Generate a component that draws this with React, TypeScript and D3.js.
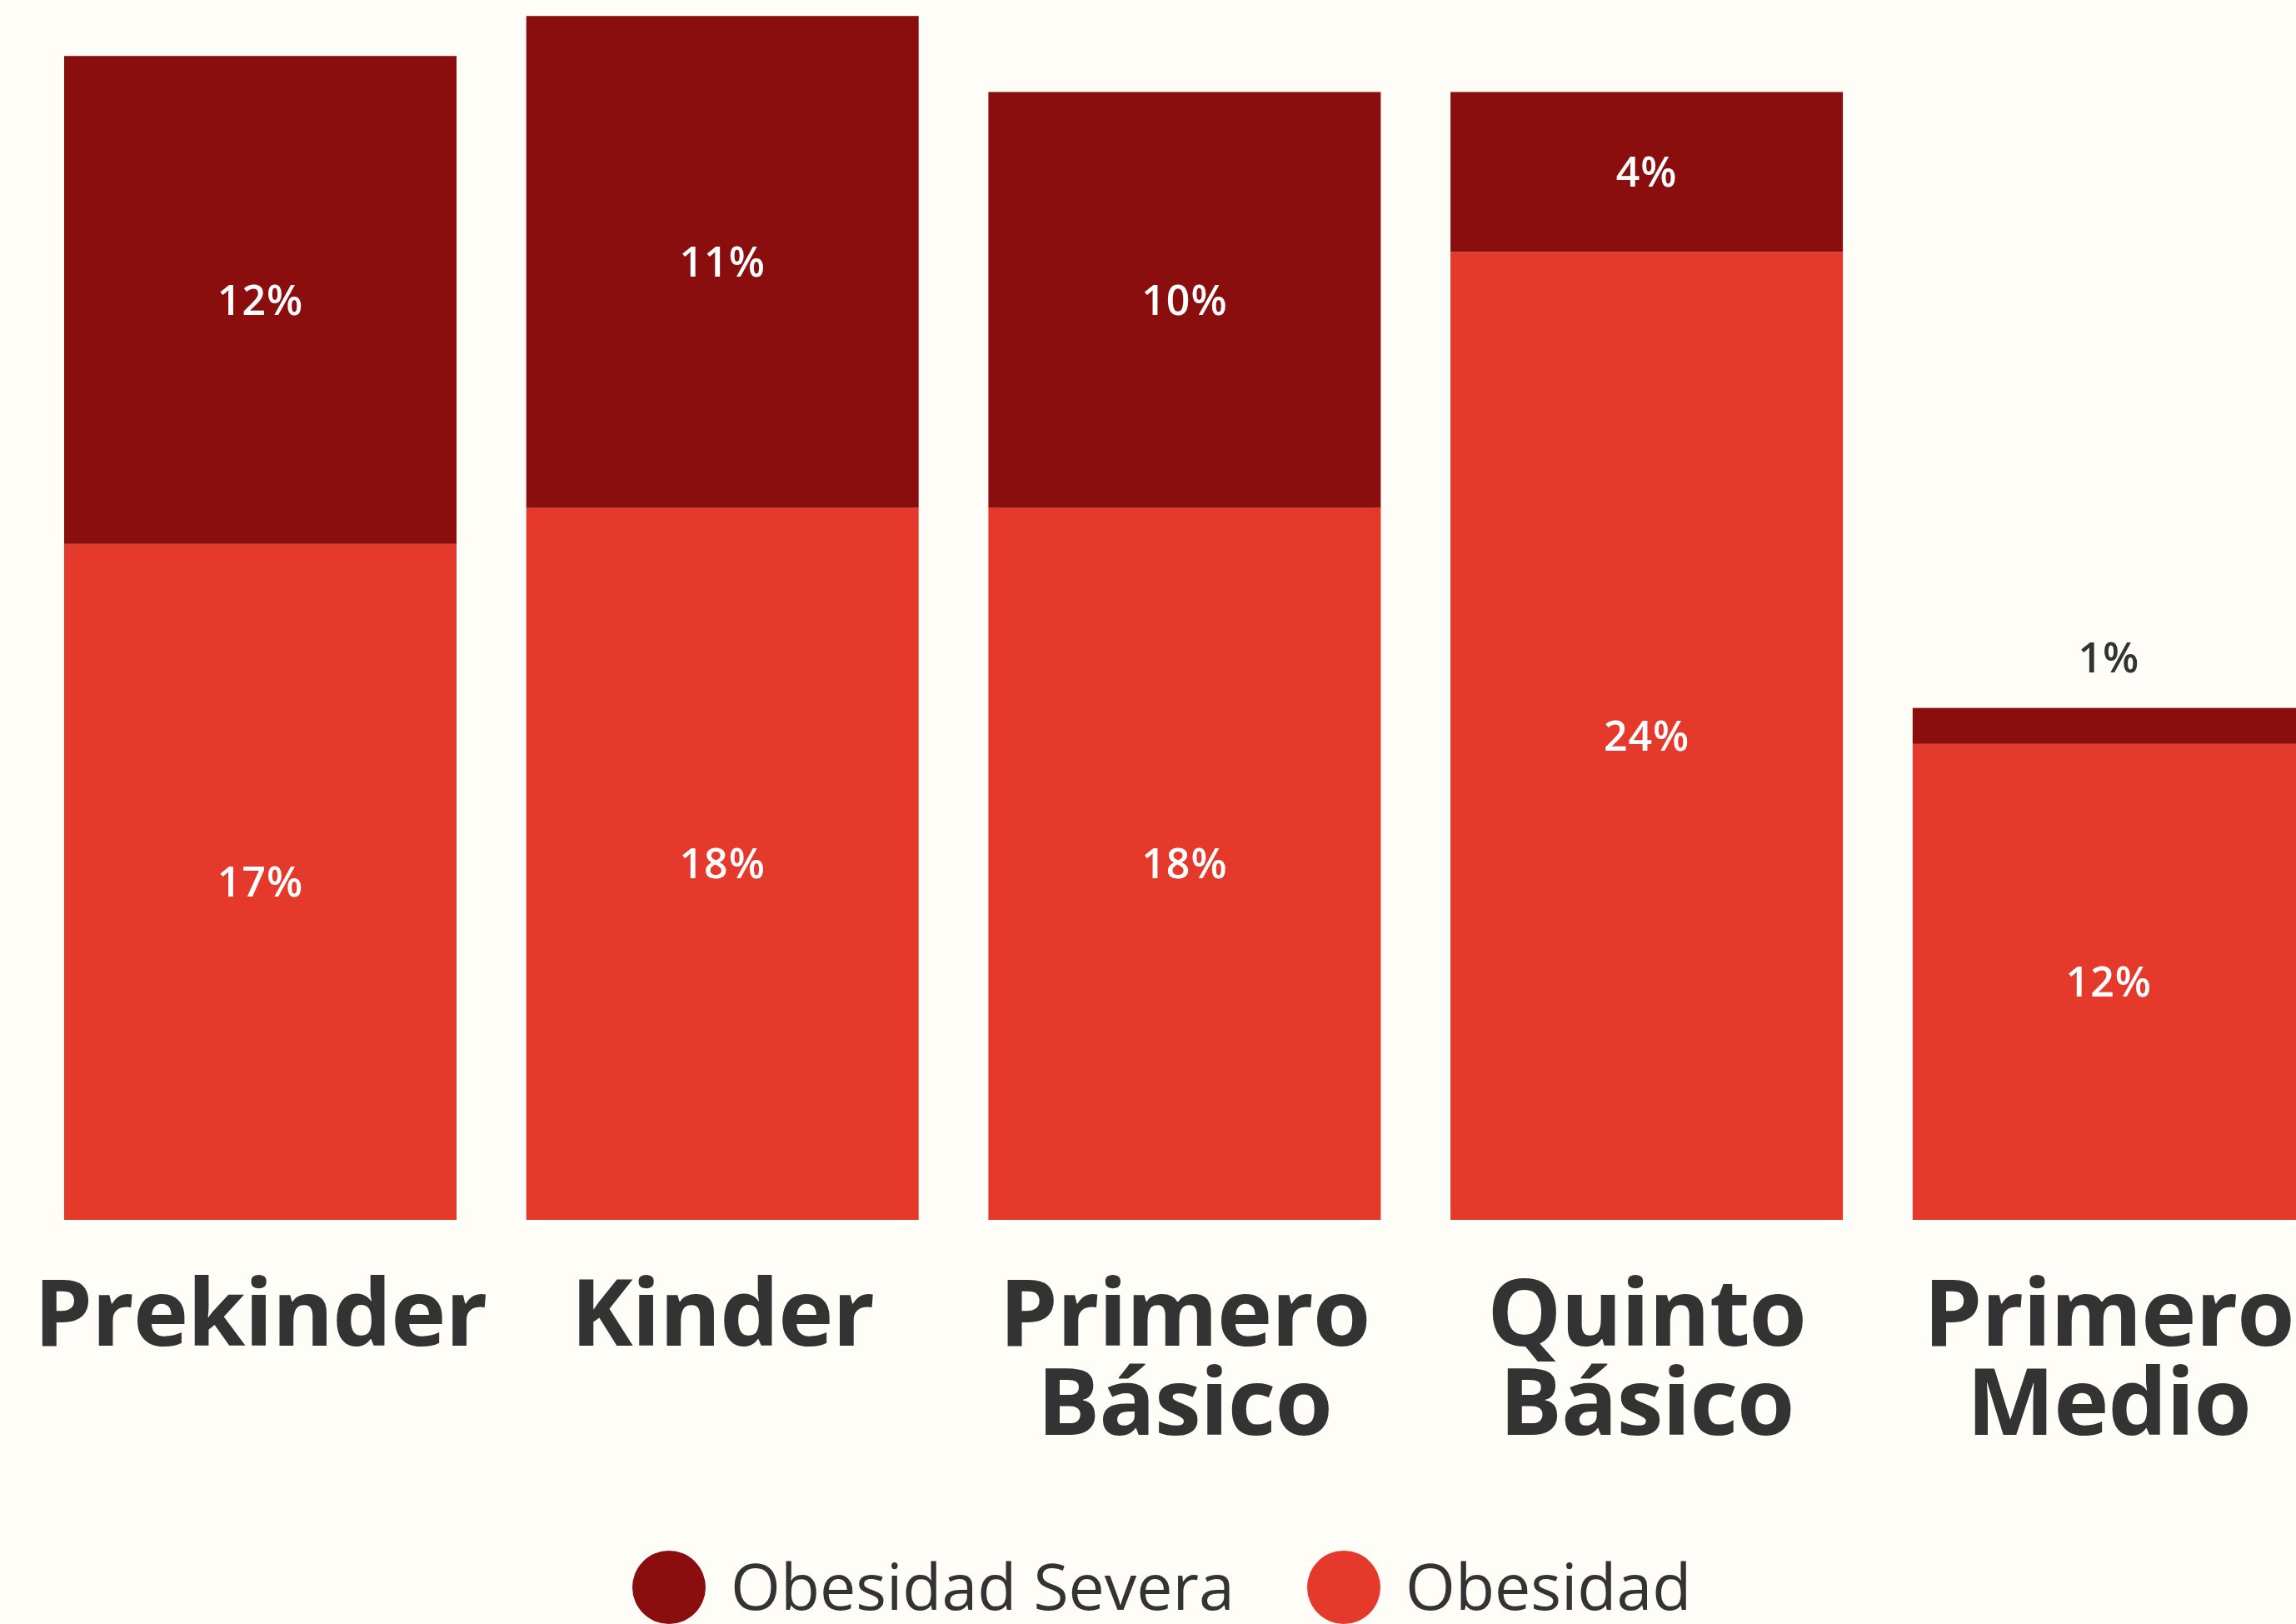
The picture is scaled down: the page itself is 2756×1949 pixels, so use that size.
import React from 'react';
import * as d3 from 'd3';

const categories = ['Prekinder', 'Kinder', 'Primero Básico', 'Quinto Básico', 'Primero Medio'];
const categoryLines = [['Prekinder'], ['Kinder'], ['Primero', 'Básico'], ['Quinto', 'Básico'], ['Primero', 'Medio']];
const obesidad = [16.9, 17.8, 17.8, 24.2, 11.9];
const obesidadSevera = [12.2, 12.3, 10.4, 4.0, 0.9];
const obesidadLabels = ['17%', '18%', '18%', '24%', '12%'];
const severaLabels = ['12%', '11%', '10%', '4%', '1%'];
const seriesNames = ['Obesidad Severa', 'Obesidad'];
const seriesColors = ['#8B0E0F', '#E5392C'];

const W = 2756;
const H = 1949;
const BG = '#FFFDF8';
const TEXT = '#333333';
const FONT = '"Open Sans", "DejaVu Sans", sans-serif';

export default function App() {
  const step = 554.7;
  const pad = 0.1509;
  const x = d3
    .scaleBand<string>()
    .domain(categories)
    .range([77, 77 + step * (categories.length - pad)])
    .paddingInner(pad)
    .paddingOuter(0);
  const y = d3.scaleLinear().domain([0, 30]).range([1464, 24]);

  const bw = x.bandwidth();

  return (
    <svg
      width={W}
      height={H}
      style={{ position: 'absolute', left: 0, top: 0, display: 'block' }}
      fontFamily={FONT}
    >
      <rect x={0} y={0} width={W} height={H} fill={BG} />
      {categories.map((c, i) => {
        const x0 = x(c)!;
        const cx = x0 + bw / 2;
        const ob = obesidad[i];
        const sv = obesidadSevera[i];
        const yObTop = y(ob);
        const ySvTop = y(ob + sv);
        const svH = yObTop - ySvTop;
        const svInside = svH > 70;
        return (
          <g key={c}>
            <rect x={x0} y={yObTop} width={bw} height={y(0) - yObTop} fill={seriesColors[1]} />
            <rect x={x0} y={ySvTop} width={bw} height={svH} fill={seriesColors[0]} />
            <text
              x={cx}
              y={(yObTop + y(0)) / 2}
              dy="0.35em"
              textAnchor="middle"
              fill="#ffffff"
              fontSize={50}
              fontWeight={600}
              letterSpacing={1}
            >
              {obesidadLabels[i]}
            </text>
            <text
              x={cx}
              y={svInside ? (ySvTop + yObTop) / 2 : ySvTop - 60}
              dy="0.35em"
              textAnchor="middle"
              fill={svInside ? '#ffffff' : TEXT}
              fontSize={50}
              fontWeight={600}
              letterSpacing={1}
            >
              {severaLabels[i]}
            </text>
            {categoryLines[i].map((line, j) => (
              <text
                key={j}
                x={cx}
                y={y(0) + 151 + j * 107}
                textAnchor="middle"
                fill={TEXT}
                fontSize={112}
                fontWeight={700}
                letterSpacing={-1}
              >
                {line}
              </text>
            ))}
          </g>
        );
      })}
      {seriesNames.map((name, i) => {
        const lx = [803, 1613][i];
        return (
          <g key={name}>
            <circle cx={lx} cy={1905} r={44} fill={seriesColors[i]} />
            <text x={lx + 74} y={1932} fill={TEXT} fontSize={77} fontWeight={400}>
              {name}
            </text>
          </g>
        );
      })}
    </svg>
  );
}
